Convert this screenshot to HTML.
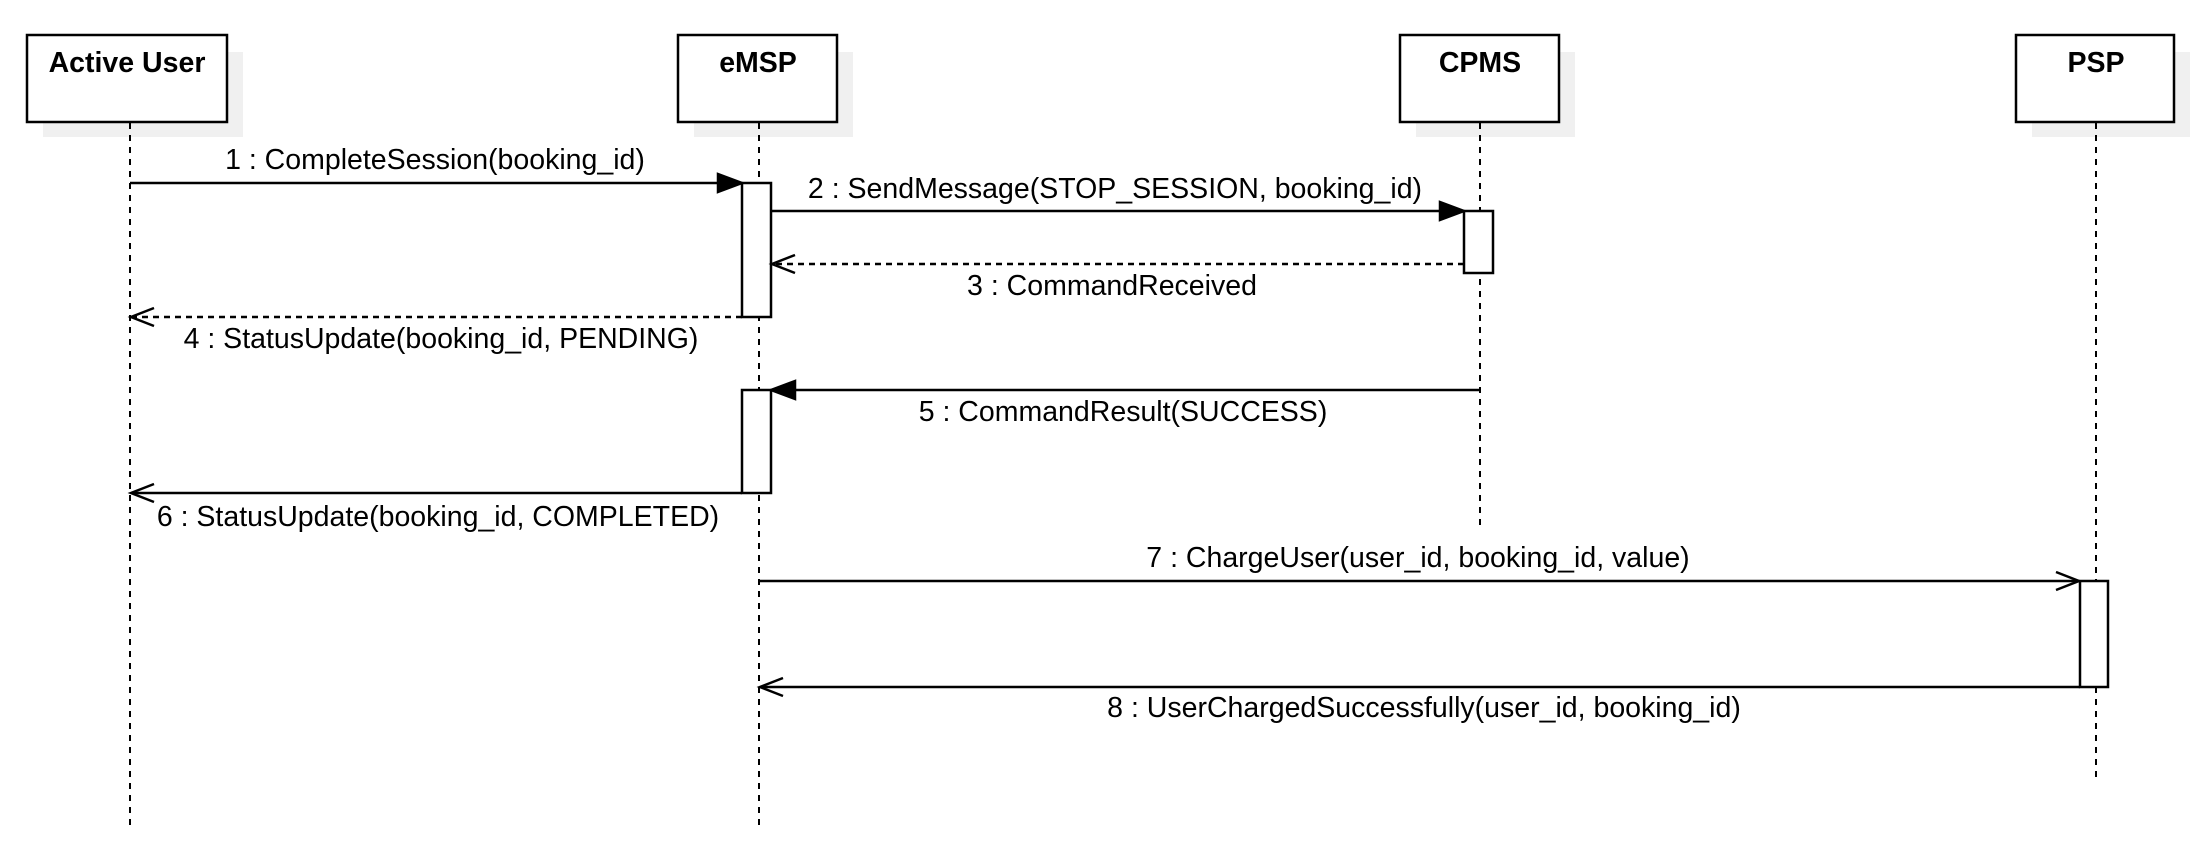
<!DOCTYPE html>
<html><head><meta charset="utf-8"><style>
html,body{margin:0;padding:0;background:#fff;}
svg{display:block;}
text{font-family:"Liberation Sans",sans-serif;font-size:28.5px;fill:#000;}
.t{font-weight:bold;font-size:28.5px;}
</style></head><body>
<svg width="2208" height="862" viewBox="0 0 2208 862" xmlns="http://www.w3.org/2000/svg">
<rect x="43" y="52" width="200" height="85" fill="#f0f0f0"/>
<rect x="694" y="52" width="159" height="85" fill="#f0f0f0"/>
<rect x="1416" y="52" width="159" height="85" fill="#f0f0f0"/>
<rect x="2032" y="52" width="158" height="85" fill="#f0f0f0"/>
<g fill="#fff" stroke="#000" stroke-width="2.5">
<rect x="27" y="35" width="200" height="87"/>
<rect x="678" y="35" width="159" height="87"/>
<rect x="1400" y="35" width="159" height="87"/>
<rect x="2016" y="35" width="158" height="87"/>
</g>
<text class="t" x="127" y="72" text-anchor="middle">Active User</text>
<text class="t" x="758" y="72" text-anchor="middle">eMSP</text>
<text class="t" x="1480" y="72" text-anchor="middle">CPMS</text>
<text class="t" x="2096" y="72" text-anchor="middle">PSP</text>
<g stroke="#000" stroke-width="2" stroke-dasharray="6,6">
<line x1="130" y1="123" x2="130" y2="831"/>
<line x1="759" y1="123" x2="759" y2="831"/>
<line x1="1480" y1="123" x2="1480" y2="525"/>
<line x1="2096" y1="123" x2="2096" y2="777"/>
</g>
<g fill="#fff" stroke="#000" stroke-width="2.5">
<rect x="742" y="183" width="29" height="134"/>
<rect x="1464" y="211" width="29" height="62"/>
<rect x="742" y="390" width="29" height="103"/>
<rect x="2080" y="581" width="28" height="106"/>
</g>
<g stroke="#000" stroke-width="2.5" fill="none">
<line x1="130" y1="183" x2="720" y2="183"/>
<path d="M718,174 L742,183 L718,192 Z" fill="#000"/>
<line x1="771" y1="211" x2="1442" y2="211"/>
<path d="M1440,202 L1464,211 L1440,220 Z" fill="#000"/>
<line x1="1464" y1="264" x2="772" y2="264" stroke-dasharray="6,5"/>
<path d="M795,255 L772,264 L795,273"/>
<line x1="742" y1="317" x2="131" y2="317" stroke-dasharray="6,5"/>
<path d="M154,308 L131,317 L154,326"/>
<line x1="1480" y1="390" x2="793" y2="390"/>
<path d="M795,381 L771,390 L795,399 Z" fill="#000"/>
<line x1="742" y1="493" x2="131" y2="493"/>
<path d="M154,484 L131,493 L154,502"/>
<line x1="759" y1="581" x2="2079" y2="581"/>
<path d="M2056,572 L2079,581 L2056,590"/>
<line x1="2080" y1="687" x2="760" y2="687"/>
<path d="M783,678 L760,687 L783,696"/>
</g>
<text x="435" y="169" text-anchor="middle">1 : CompleteSession(booking_id)</text>
<text x="1115" y="198" text-anchor="middle">2 : SendMessage(STOP_SESSION, booking_id)</text>
<text x="1112" y="295" text-anchor="middle">3 : CommandReceived</text>
<text x="441" y="348" text-anchor="middle">4 : StatusUpdate(booking_id, PENDING)</text>
<text x="1123" y="421" text-anchor="middle">5 : CommandResult(SUCCESS)</text>
<text x="438" y="526" text-anchor="middle">6 : StatusUpdate(booking_id, COMPLETED)</text>
<text x="1418" y="567" text-anchor="middle">7 : ChargeUser(user_id, booking_id, value)</text>
<text x="1424" y="717" text-anchor="middle">8 : UserChargedSuccessfully(user_id, booking_id)</text>
</svg>
</body></html>
